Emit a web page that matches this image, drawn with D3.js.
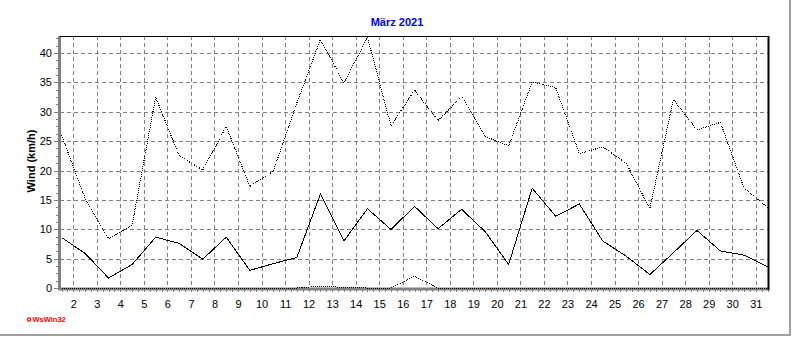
<!DOCTYPE html>
<html>
<head>
<meta charset="utf-8">
<script src="https://cdn.jsdelivr.net/npm/d3@7"></script>
<style>
body { margin: 0; background: #fff; }
svg { display: block; font-family: "Liberation Sans", Arial, sans-serif; }
</style>
</head>
<body>
<svg width="792" height="337"></svg>
<script>
// **** data ****
var days = d3.range(1, 32);
var windMax = [26.0, 15.3, 8.4, 10.7, 32.5, 22.5, 20.1, 27.5, 17.3, 19.9,
               31.5, 42.3, 34.9, 42.7, 27.6, 33.7, 28.5, 32.6, 25.8, 24.2,
               35.1, 34.1, 22.9, 24.0, 21.2, 13.5, 32.1, 26.9, 28.2, 17.0, 13.7];
var windAvg = [8.6, 5.9, 1.7, 4.0, 8.65, 7.6, 4.9, 8.65, 3.0, 4.15,
               5.2, 16.0, 8.0, 13.5, 9.95, 13.9, 10.1, 13.4, 9.6, 4.0,
               17.0, 12.2, 14.3, 8.0, 5.4, 2.3, 6.0, 9.8, 6.3, 5.6, 3.6];
var windMin = [0, 0, 0, 0, 0, 0, 0, 0, 0, 0,
               0, 0.3, 0.1, 0, 0, 2.0, 0, 0, 0, 0,
               0, 0, 0, 0, 0, 0, 0, 0, 0, 0, 0];
var dayTicks = d3.range(2, 32);
var windTicks = [0, 5, 10, 15, 20, 25, 30, 35, 40];

var svg = d3.select('svg');

// **** scales ****
var xScale = d3.scaleLinear().domain([1.435, 31.52]).range([60, 768]);
var yScale = d3.scaleLinear().domain([0, 42.9]).range([288, 36]);

// outer frame (grey, right + bottom)
svg.append('line').attr('x1', 790).attr('x2', 790).attr('y1', 0).attr('y2', 336)
    .attr('stroke', '#a0a0a0').attr('stroke-width', 2);
svg.append('line').attr('x1', 0).attr('x2', 791).attr('y1', 335).attr('y2', 335)
    .attr('stroke', '#a0a0a0').attr('stroke-width', 2);

// **** grid ****
svg.append('g').selectAll('line')
    .data(dayTicks)
    .enter()
    .append('line')
    .attr('x1', function(d) { return Math.round(xScale(d)) + 0.5; })
    .attr('x2', function(d) { return Math.round(xScale(d)) + 0.5; })
    .attr('y1', yScale.range()[1])
    .attr('y2', yScale(0))
    .attr('stroke', '#808080')
    .attr('stroke-dasharray', '4,3')
    .attr('shape-rendering', 'crispEdges');

svg.append('g').selectAll('line')
    .data(windTicks.filter(function(d) { return d > 0; }))
    .enter()
    .append('line')
    .attr('x1', 60)
    .attr('x2', 768)
    .attr('y1', function(d) { return Math.round(yScale(d)) + 0.5; })
    .attr('y2', function(d) { return Math.round(yScale(d)) + 0.5; })
    .attr('stroke', '#808080')
    .attr('stroke-dasharray', '4,3')
    .attr('shape-rendering', 'crispEdges');

// **** axes ****
var xMinor = svg.append('g')
    .attr('transform', 'translate(0,289)')
    .call(d3.axisBottom(xScale).tickValues(d3.range(1.5, 31.51, 0.25)).tickSize(3).tickFormat(''));

var xAxis = svg.append('g')
    .attr('transform', 'translate(0,289)')
    .call(d3.axisBottom(xScale).tickValues(dayTicks).tickSize(3).tickPadding(8));

var yMinor = svg.append('g')
    .attr('transform', 'translate(59,0)')
    .call(d3.axisLeft(yScale).tickValues(d3.range(0, 42.9, 1.25)).tickSize(3).tickFormat(''));

var yAxis = svg.append('g')
    .attr('transform', 'translate(59,0)')
    .call(d3.axisLeft(yScale).tickValues(windTicks).tickSize(5).tickPadding(2));

[xMinor, xAxis, yMinor, yAxis].forEach(function(g) {
    g.select('.domain').remove();
    g.selectAll('.tick line').attr('stroke', '#808080').attr('shape-rendering', 'crispEdges');
    g.selectAll('text').attr('font-size', 11).attr('fill', '#000')
        .attr('font-family', '"Liberation Sans", Arial, sans-serif');
});

// thick grey axis lines
svg.append('line').attr('x1', 59.5).attr('x2', 59.5).attr('y1', 36).attr('y2', 290)
    .attr('stroke', '#808080').attr('stroke-width', 3);
svg.append('line').attr('x1', 58).attr('x2', 769).attr('y1', 289).attr('y2', 289)
    .attr('stroke', '#808080').attr('stroke-width', 3);

// top and right border of the plot
svg.append('line').attr('x1', 60).attr('x2', 769).attr('y1', 36.5).attr('y2', 36.5)
    .attr('stroke', '#000').attr('stroke-width', 1);
svg.append('line').attr('x1', 768.5).attr('x2', 768.5).attr('y1', 36).attr('y2', 290)
    .attr('stroke', '#000').attr('stroke-width', 2);

// **** series ****
function seriesLine(values) {
    return d3.line()
        .x(function(d, i) { return xScale(days[i] + 0.5); })
        .y(function(d) { return yScale(d); })(values);
}

svg.append('path').attr('d', seriesLine(windMin))
    .attr('fill', 'none').attr('stroke', '#000').attr('stroke-width', 1)
    .attr('stroke-dasharray', '1,1').attr('shape-rendering', 'crispEdges');

svg.append('path').attr('d', seriesLine(windMax))
    .attr('fill', 'none').attr('stroke', '#000').attr('stroke-width', 1)
    .attr('stroke-dasharray', '1,1').attr('shape-rendering', 'crispEdges');

svg.append('path').attr('d', seriesLine(windAvg))
    .attr('fill', 'none').attr('stroke', '#000').attr('stroke-width', 1)
    .attr('shape-rendering', 'crispEdges');

// **** labels ****
svg.append('text')
    .attr('x', 397).attr('y', 26)
    .attr('text-anchor', 'middle')
    .attr('font-size', 11).attr('font-weight', 'bold')
    .attr('fill', '#0000ff')
    .text('März 2021');

svg.append('text')
    .attr('transform', 'translate(35,161) rotate(-90)')
    .attr('text-anchor', 'middle')
    .attr('font-size', 11).attr('font-weight', 'bold')
    .text('Wind (km/h)');

svg.append('circle').attr('cx', 29).attr('cy', 319.5).attr('r', 1.6)
    .attr('fill', 'none').attr('stroke', '#ff0000').attr('stroke-width', 1.2);
svg.append('text')
    .attr('x', 32.5).attr('y', 322)
    .attr('font-size', 7.5).attr('font-weight', 'bold')
    .attr('fill', '#ff0000')
    .text('WsWin32');
</script>
</body>
</html>
